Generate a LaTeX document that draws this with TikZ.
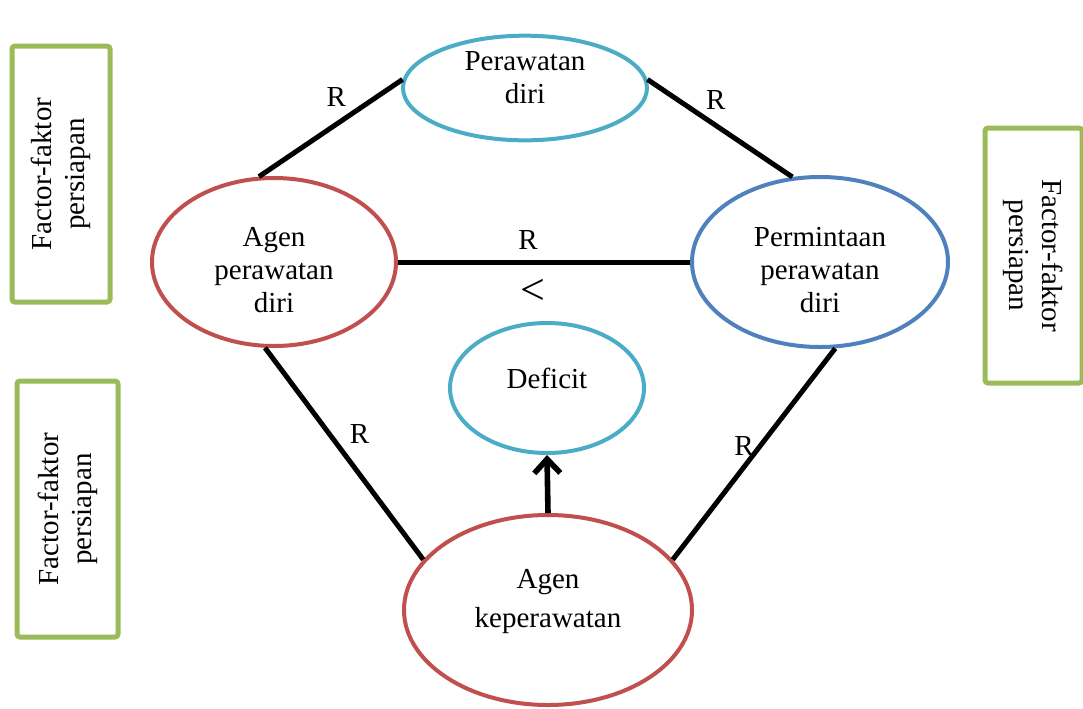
\documentclass[tikz,border=0pt]{standalone}
\usepackage{fontspec}
\setmainfont{Liberation Serif}
\usepackage{xcolor}
\usetikzlibrary{shapes.geometric, arrows.meta}

\definecolor{sky}{HTML}{4BACC6}
\definecolor{brick}{HTML}{C0504D}
\definecolor{steel}{HTML}{4F81BD}
\definecolor{leaf}{HTML}{9BBB59}

\begin{document}
\begin{tikzpicture}[
  x=0.5pt, y=-0.5pt,
  every node/.style={font=\fontsize{14.5}{16.5}\selectfont, align=center},
  oval/.style={ellipse, draw, line width=2pt, inner sep=0pt},
  factorbox/.style={draw=leaf, line width=2.5pt, rounded corners=1.5pt, fill=white},
  link/.style={line width=2.5pt, black},
  arrow/.style={line width=2.8pt, ->, >={Straight Barb[length=7pt,width=13pt]}},
  rel/.style={midway, inner sep=0pt}
]
  \useasboundingbox (0,0) rectangle (1083,708);

  % factor boxes
  \node (factL) [factorbox, rotate=90, minimum width=128pt, minimum height=49pt] at (61,174) {Factor-faktor\\persiapan};
  \node (factR) [factorbox, rotate=-90, minimum width=127.5pt, minimum height=48.5pt] at (1033.5,255.5) {Factor-faktor\\persiapan};
  \node (factB) [factorbox, rotate=90, minimum width=128pt, minimum height=50.5pt] at (67.5,509) {Factor-faktor\\persiapan};

  % ellipses
  \node (rawat) [oval, draw=sky, minimum width=122pt, minimum height=50pt] at (525,88) {Perawatan\\diri\\[-5.5pt]};
  \node (agen) [oval, draw=brick, minimum width=122pt, minimum height=84pt] at (274,262) {Agen\\perawatan\\diri\\[-24.5pt]};
  \node (minta) [oval, draw=steel, minimum width=128pt, minimum height=85pt] at (820,262) {Permintaan\\perawatan\\diri\\[-24.5pt]};
  \node (defisit) [oval, draw=sky, minimum width=97pt, minimum height=65pt] at (547,388) {Deficit\\[-6.5pt]};
  \node (perawat) [oval, draw=brick, minimum width=144pt, minimum height=95pt, font=\fontsize{14.5}{19.5}\selectfont] at (548,610) {Agen\\keperawatan\\[-7.5pt]};

  \node (kurang) at (533,292) {\fontsize{22}{22}\selectfont <};

  % relations
  \draw [link] (agen.100) -- (rawat.176) node [rel, xshift=2.75pt, yshift=15.75pt] {R};
  \draw [link] (rawat.4) -- (minta.108) node [rel, xshift=-2pt, yshift=14.25pt] {R};
  \draw [link] (agen.east) -- (minta.west) node [rel, xshift=-8pt, yshift=11pt] {R};
  \draw [link] (agen.264) -- (perawat.158) node [rel, xshift=7.75pt, yshift=9.75pt] {R};
  \draw [link] (minta.280) -- (perawat.22) node [rel, xshift=-5pt, yshift=4pt] {R};
  \draw [arrow] (perawat.north) -- (defisit.south);
\end{tikzpicture}
\end{document}
